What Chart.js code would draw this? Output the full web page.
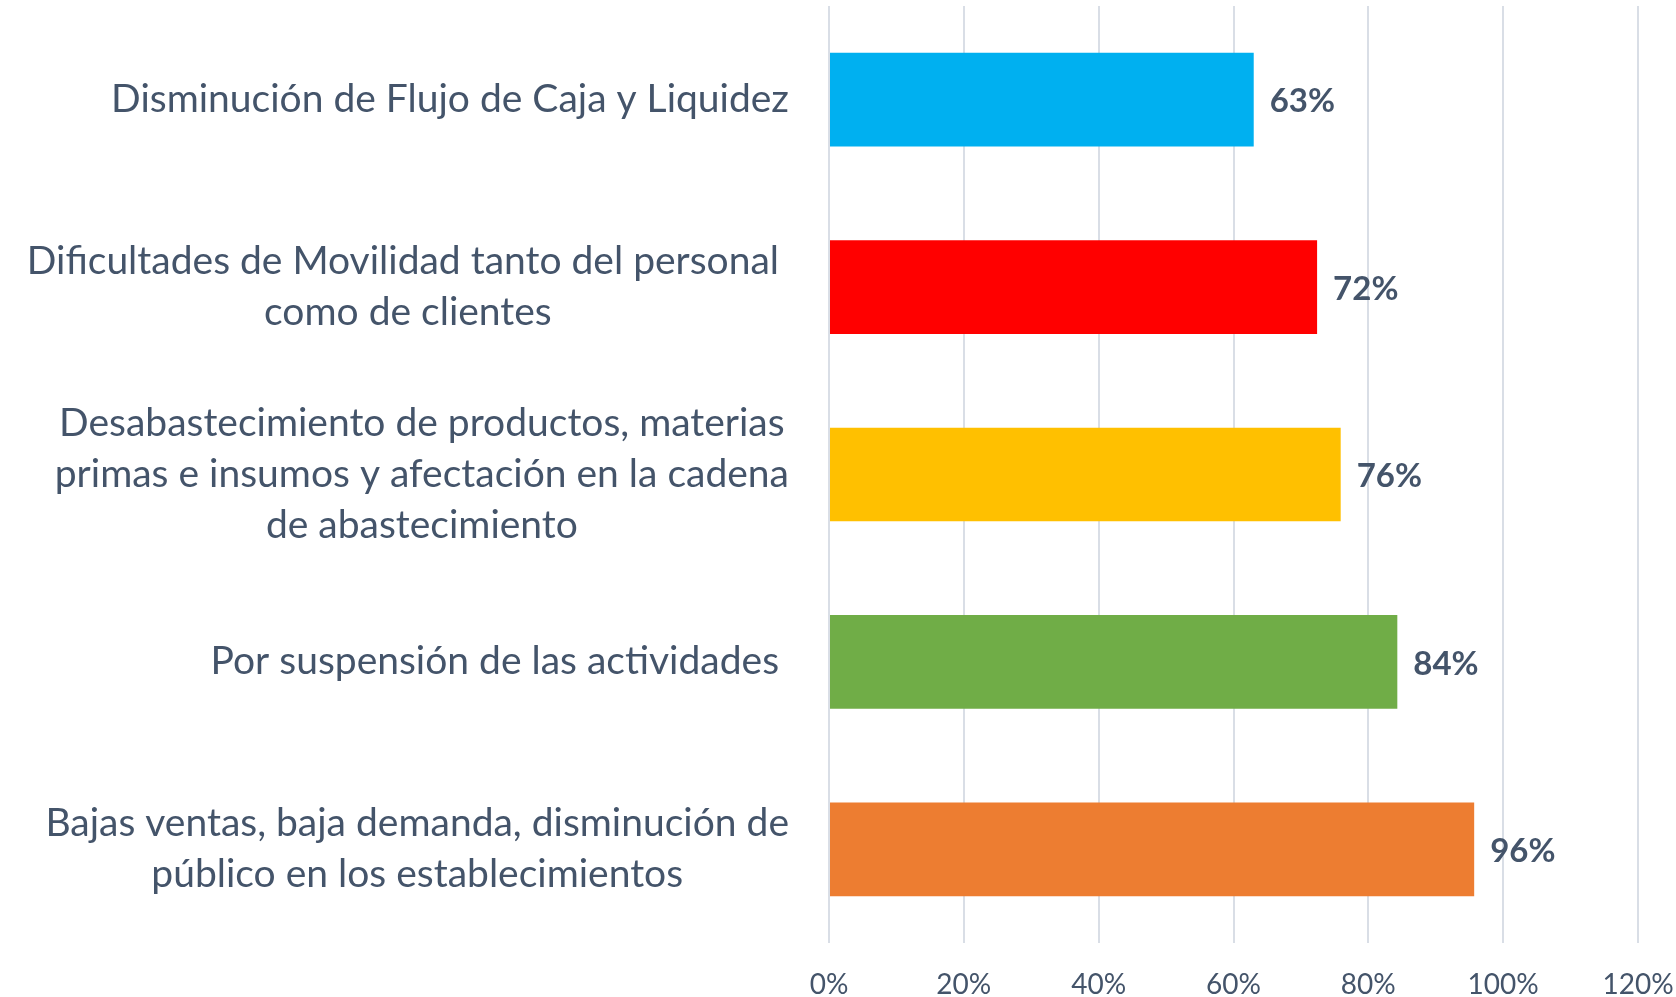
<!DOCTYPE html>
<html>
<head>
<meta charset="utf-8">
<script src="https://cdn.jsdelivr.net/npm/chart.js@4/dist/chart.umd.min.js"></script>
<style>
  html, body { margin: 0; padding: 0; background: #fff; }
  #wrap { width: 1676px; height: 997px; }
</style>
</head>
<body>
<div id="wrap"><canvas id="chart"></canvas></div>
<script>
// categories, top to bottom (multi-line labels as in the original)
const categories = [
  ['Disminución de Flujo de Caja y Liquidez'],
  ['Dificultades de Movilidad tanto del personal ', 'como de clientes'],
  ['Desabastecimiento de productos, materias', 'primas e insumos y afectación en la cadena', 'de abastecimiento'],
  ['Por suspensión de las actividades '],
  ['Bajas ventas, baja demanda, disminución de', 'público en los establecimientos'],
]
const values = [63, 72.4, 75.9, 84.3, 95.7]
const barColors = ['#00B0F0', '#FF0000', '#FFC000', '#70AD47', '#ED7D31']

const TEXT = '#44546A'
const FONT = 'Lato'
const LABEL_SIZE = 39
const LINE_H = 51

// y labels: block right-aligned next to the plot, lines centred inside the block
const categoryLabels = {
  id: 'categoryLabels',
  afterDraw(chart) {
    const { ctx } = chart
    const y = chart.scales.y
    const right = chart.chartArea.left - 40
    ctx.save()
    ctx.font = `${LABEL_SIZE}px ${FONT}`
    ctx.fillStyle = TEXT
    ctx.textAlign = 'center'
    ctx.textBaseline = 'middle'
    categories.forEach((lines, i) => {
      const w = Math.max(...lines.map(l => ctx.measureText(l).width))
      const cx = right - w / 2
      const cy = y.getPixelForTick(i)
      lines.forEach((l, j) => ctx.fillText(l, cx, cy + (j - (lines.length - 1) / 2) * LINE_H))
    })
    ctx.restore()
  },
}

// value labels at the end of each bar
const valueLabels = {
  id: 'valueLabels',
  afterDatasetsDraw(chart) {
    const { ctx } = chart
    const meta = chart.getDatasetMeta(0)
    ctx.save()
    ctx.font = `bold 33px ${FONT}`
    ctx.fillStyle = TEXT
    ctx.textAlign = 'left'
    ctx.textBaseline = 'middle'
    meta.data.forEach((bar, i) => {
      ctx.fillText(Math.round(values[i]) + '%', bar.x + 16, bar.y + 2)
    })
    ctx.restore()
  },
}

new Chart(document.getElementById('chart'), {
  type: 'bar',
  data: {
    labels: categories,
    datasets: [{
      data: values,
      backgroundColor: barColors,
      categoryPercentage: 0.5,
      barPercentage: 1,
    }],
  },
  options: {
    indexAxis: 'y',
    responsive: true,
    maintainAspectRatio: false,
    animation: false,
    layout: { padding: { top: 6, right: 38, bottom: 0, left: 0 } },
    plugins: {
      legend: { display: false },
      tooltip: { enabled: false },
    },
    scales: {
      x: {
        min: 0,
        max: 120,
        ticks: {
          stepSize: 20,
          color: TEXT,
          font: { family: FONT, size: 28 },
          padding: 25,
          callback: v => v + '%',
        },
        grid: { color: '#D9DEE6', lineWidth: 2, drawTicks: false },
        border: { display: false },
        afterFit: s => { s.height = 54; s.paddingLeft = 0; s.paddingRight = 0 },
      },
      y: {
        ticks: { display: false },
        grid: { display: false },
        border: { display: false },
        afterFit: s => { s.width = 829 },
      },
    },
  },
  plugins: [categoryLabels, valueLabels],
})
</script>
</body>
</html>
